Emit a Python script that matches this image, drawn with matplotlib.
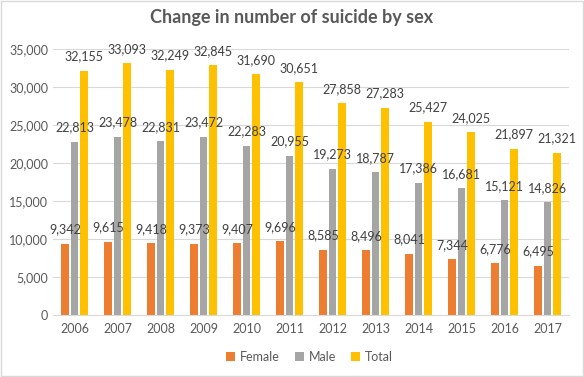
# suicide numbers by sex, grouped bars in the old excel look
import numpy as np
import matplotlib
matplotlib.use('agg')
import matplotlib.pyplot as plt
from matplotlib.patches import Rectangle

years = ['2006', '2007', '2008', '2009', '2010', '2011',
         '2012', '2013', '2014', '2015', '2016', '2017']
female = [9342, 9615, 9418, 9373, 9407, 9696, 8585, 8496, 8041, 7344, 6776, 6495]
male = [22813, 23478, 22831, 23472, 22283, 20955, 19273, 18787, 17386, 16681, 15121, 14826]
total = [32155, 33093, 32249, 32845, 31690, 30651, 27858, 27283, 25427, 24025, 21897, 21321]

plt.rcParams['font.family'] = ['Lato', 'DejaVu Sans']

fig = plt.figure(figsize=(5.84, 3.77), dpi=100)
ax = fig.add_axes([0.0908, 0.1645, 0.8836, 0.7056])

x = np.arange(len(years))
w = 0.18
step = 0.22
series = [('Female', female, '#ED7D31'), ('Male', male, '#A5A5A5'), ('Total', total, '#FFC000')]
for i, (name, vals, col) in enumerate(series):
    pos = x + (i - 1) * step
    ax.bar(pos, vals, width=w, color=col, label=name, zorder=2)
    for px, v in zip(pos, vals):
        ax.text(px, v + 1100, f'{v:,}', ha='center', va='bottom',
                fontsize=9, color='#404040', zorder=3)

ax.set_xlim(-0.5, len(years) - 0.5)
ax.set_ylim(0, 35000)
ax.set_yticks(range(0, 35001, 5000))
ax.set_yticklabels([f'{v:,}' for v in range(0, 35001, 5000)])
ax.set_xticks(x)
ax.set_xticklabels(years)
ax.tick_params(length=0, labelsize=9, colors='#595959')
ax.tick_params(axis='x', pad=6)
ax.grid(axis='y', color='#D9D9D9', linewidth=0.8, zorder=0)
for s in ['top', 'right', 'left']:
    ax.spines[s].set_visible(False)
ax.spines['bottom'].set_color('#D9D9D9')

fig.text(0.5, 0.953, 'Change in number of suicide by sex', ha='center', va='center',
         fontsize=13, fontweight='bold', color='#595959')

fig.legend(loc='center', bbox_to_anchor=(0.53, 0.053), ncol=3, frameon=False,
           fontsize=9, handlelength=0.7, handleheight=0.7, columnspacing=1.2,
           handletextpad=0.4, labelcolor='#595959')

fig.patches.append(Rectangle((0.001, 0.002), 0.997, 0.995, transform=fig.transFigure,
                             fill=False, edgecolor='#D9D9D9', linewidth=1))

plt.savefig('out.png', dpi=100)
plt.close()
